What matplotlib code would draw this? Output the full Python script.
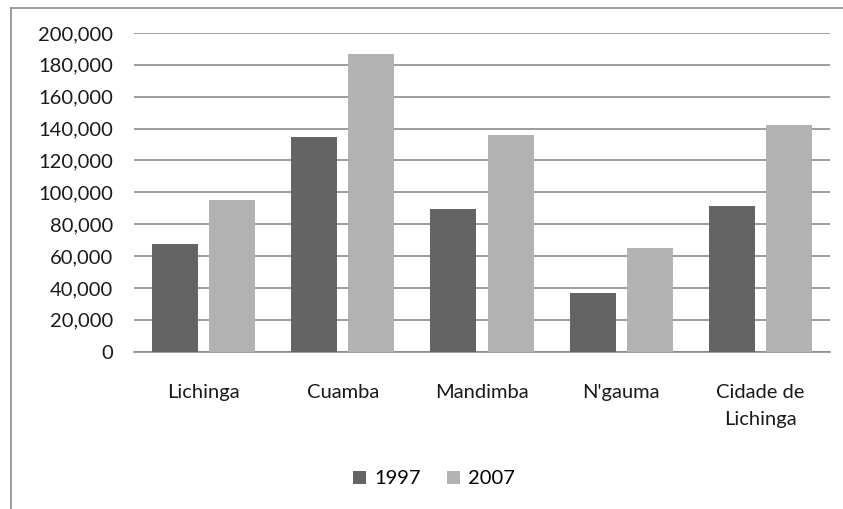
import numpy as np
import matplotlib
matplotlib.use("Agg")
import matplotlib.pyplot as plt
from matplotlib.lines import Line2D

plt.rcParams["font.family"] = ["Lato", "DejaVu Sans"]

districts = ["Lichinga", "Cuamba", "Mandimba", "N'gauma", "Cidade de\nLichinga"]
years = ["1997", "2007"]
pop_1997 = [67500, 134800, 89300, 36600, 91400]
pop_2007 = [95000, 187100, 136200, 65000, 142500]
yticks = np.arange(0, 200001, 20000)

DARK = "#646464"
LIGHT = "#b2b2b2"
GRID = "#8c8c8c"
FS = 14.5

fig = plt.figure(figsize=(8.43, 5.09), dpi=100)
ax = fig.add_axes([134 / 843, 1 - 351.7 / 509, (830 - 134) / 843, (351.7 - 33) / 509])

x = np.arange(len(districts))
w = 0.33
ax.bar(x - 0.205, pop_1997, w, color=DARK, label=years[0], zorder=3)
ax.bar(x + 0.205, pop_2007, w, color=LIGHT, label=years[1], zorder=3)

ax.set_xlim(-0.5, len(districts) - 0.5)
ax.set_ylim(0, 200000)
ax.set_yticks(yticks)
ax.set_yticklabels([f"{v:,}" for v in yticks], fontsize=FS, color="#1a1a1a")
ax.set_xticks(x)
ax.set_xticklabels(districts, fontsize=FS, color="#1a1a1a", linespacing=1.75)
ax.tick_params(axis="y", length=0, pad=15)
ax.tick_params(axis="x", length=0, pad=23)
ax.yaxis.grid(True, color=GRID, lw=1.2, zorder=0)
ax.set_axisbelow(True)
for s in ("top", "right", "left"):
    ax.spines[s].set_visible(False)
ax.spines["bottom"].set_color(GRID)
ax.spines["bottom"].set_linewidth(1.2)

# chart frame: only the left and top edges fall inside the image
fig.add_artist(Line2D([11 / 843, 11 / 843], [0, 1 - 8 / 509], color=GRID, lw=1.2))
fig.add_artist(Line2D([11 / 843, 1], [1 - 8 / 509, 1 - 8 / 509], color=GRID, lw=1.2))

fig.legend(loc="center", bbox_to_anchor=(434 / 843, 1 - 479 / 509), ncol=2,
           frameon=False, fontsize=FS, handlelength=0.65, handleheight=0.65,
           handletextpad=0.4, columnspacing=1.3)

fig.savefig("out.png", dpi=100)
